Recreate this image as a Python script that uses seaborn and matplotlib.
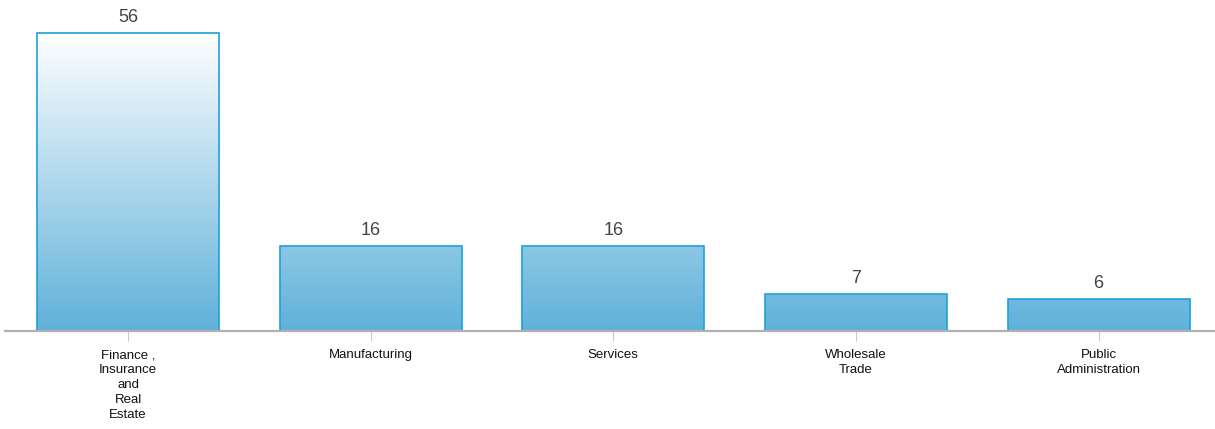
import numpy as np
import pandas as pd
import matplotlib
matplotlib.use("Agg")
import matplotlib.pyplot as plt
from matplotlib.colors import LinearSegmentedColormap
import seaborn as sns

categories = ["Finance ,\nInsurance\nand\nReal\nEstate", "Manufacturing", "Services",
              "Wholesale\nTrade", "Public\nAdministration"]
values = [56, 16, 16, 7, 6]

sns.set_theme(style="white")
plt.rcParams['font.family'] = ['Liberation Sans', 'DejaVu Sans']

W, H = 1215, 429
fig = plt.figure(figsize=(W / 100, H / 100), dpi=100)
ax = fig.add_axes([5 / W, 1 - 331 / H, 1210 / W, 331 / H])

df = pd.DataFrame({"cat": categories, "val": values})
sns.barplot(data=df, x="cat", y="val", ax=ax, width=0.75,
            facecolor="none", edgecolor="#1ea2d6", linewidth=1.2, zorder=2)

cmap = LinearSegmentedColormap.from_list("g", ["#5fb1da", "#ffffff"])
vmax = max(values)
grad = np.linspace(0, 1, 256).reshape(-1, 1)
for p in ax.patches:
    x0 = p.get_x()
    w = p.get_width()
    h = p.get_height()
    im = ax.imshow(grad, extent=[x0, x0 + w, 0, vmax], origin="lower",
                   cmap=cmap, aspect="auto", zorder=1, interpolation="bilinear")
    im.set_clip_path(p)
    ax.annotate(f"{int(h)}", (x0 + w / 2, h), xytext=(0, 5), textcoords="offset points",
                ha="center", va="bottom", fontsize=13, color="#444444")

ax.set_xlim(-0.507, 4.48)
ax.set_ylim(0, 62.2)
ax.set_xlabel("")
ax.set_ylabel("")
ax.set_yticks([])
for s in ["top", "right", "left"]:
    ax.spines[s].set_visible(False)
ax.spines["bottom"].set_color("#b0b0b0")
ax.spines["bottom"].set_linewidth(1.6)
ax.tick_params(axis="x", bottom=True, length=7, width=0.8, color="#cccccc",
               pad=6, labelsize=9.5, labelcolor="#111111")
for lbl in ax.get_xticklabels():
    lbl.set_linespacing(1.32)

fig.savefig("out.png", dpi=100)
